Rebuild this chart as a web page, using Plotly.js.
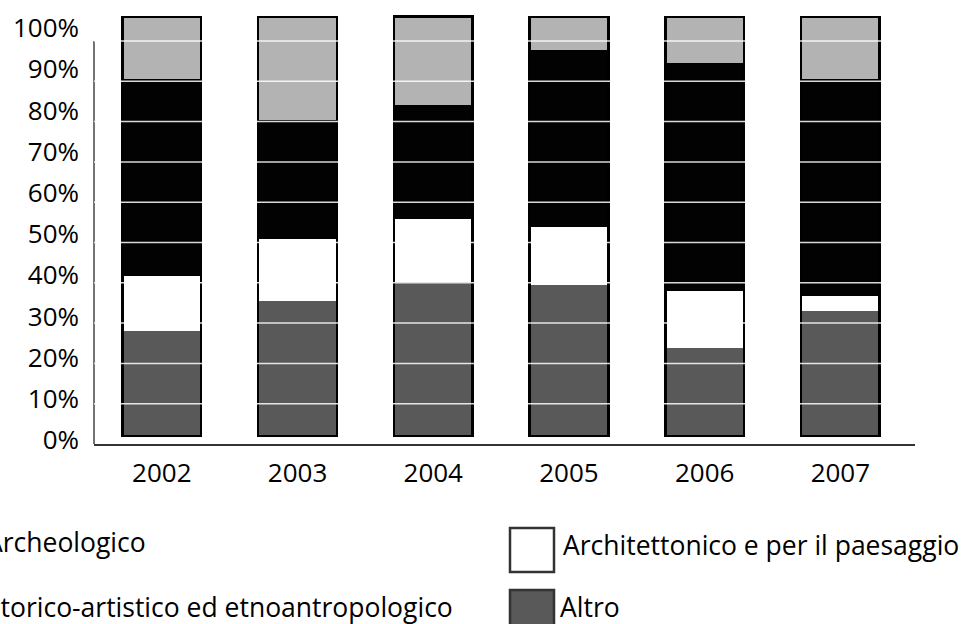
<!DOCTYPE html>
<html>
<head>
<meta charset="utf-8">
<script src="https://cdn.plot.ly/plotly-3.0.1.min.js"></script>
<style>html,body{margin:0;padding:0;background:#fff;}#chart{width:964px;height:624px;}</style>
</head>
<body>
<div id="chart"></div>
<script>
// ---- data ----
const years = ['2002', '2003', '2004', '2005', '2006', '2007'];
const altro = [25.1, 32.3, 36.7, 36.1, 21.0, 29.9];
const architettonico = [13.2, 14.6, 15.0, 13.9, 13.6, 3.6];
const storico = [46.9, 28.5, 27.4, 42.1, 54.4, 51.7];
const archeologico = [14.8, 24.6, 21.0, 7.9, 11.0, 14.8];
const seriesNames = ['Archeologico', 'Storico-artistico ed etnoantropologico', 'Architettonico e per il paesaggio', 'Altro'];
const tickValues = [0, 10, 20, 30, 40, 50, 60, 70, 80, 90, 100];
const tickLabels = ['0%', '10%', '20%', '30%', '40%', '50%', '60%', '70%', '80%', '90%', '100%'];

// ---- layout helpers ----
const W = 964, H = 624;
const ML = 94, MR = 49, MT = 10, MB = 180;
const PW = W - ML - MR, PH = H - MT - MB;
const px = p => (p - ML) / PW;          // page x -> paper x
const py = p => (H - MB - p) / PH;      // page y -> paper y

const FONT = '"Open Sans", "Noto Sans", sans-serif';
const colors = {arch: '#b3b3b3', stor: '#020202', archit: '#ffffff', altro: '#595959'};
const BW = 0.58;

const totals = years.map((_, i) => altro[i] + architettonico[i] + storico[i] + archeologico[i]);

const segTrace = (name, vals, color) => ({
  type: 'bar', name: name, x: years, y: vals, width: BW,
  marker: {color: color, line: {width: 0}},
  xaxis: 'x', yaxis: 'y', showlegend: false, hoverinfo: 'skip'
});

const traces = [
  segTrace(seriesNames[3], altro, colors.altro),
  segTrace(seriesNames[2], architettonico, colors.archit),
  segTrace(seriesNames[1], storico, colors.stor),
  segTrace(seriesNames[0], archeologico, colors.arch),
  {
    type: 'bar', name: 'frame', x: years, y: totals, width: BW,
    marker: {color: 'rgba(0,0,0,0)', line: {color: '#000', width: 2.5}},
    xaxis: 'x2', yaxis: 'y', showlegend: false, hoverinfo: 'skip'
  },
  // carrier for the percentage tick-label axis (invisible)
  {
    type: 'scatter', mode: 'markers', x: [years[0]], y: [tickValues[0]],
    marker: {opacity: 0, size: 1}, xaxis: 'x', yaxis: 'y2', showlegend: false, hoverinfo: 'skip'
  },
  // carrier for the gridline axis (invisible)
  {
    type: 'scatter', mode: 'markers', x: [years[0]], y: [tickValues[0]],
    marker: {opacity: 0, size: 1}, xaxis: 'x', yaxis: 'y3', showlegend: false, hoverinfo: 'skip'
  }
];

// axis line + gridlines (drawn above bars, as in the reference)
const shapes = [];
shapes.push({type: 'line', xref: 'paper', yref: 'y3', x0: 0, x1: 0, y0: 0, y1: 100,
  line: {color: '#444', width: 1.5}, layer: 'above'});
tickValues.filter(v => v > 0).forEach(v => {
  shapes.push({type: 'line', xref: 'paper', yref: 'y3', x0: 0, x1: 1.007, y0: v, y1: v,
    line: {color: 'rgba(255,255,255,0.85)', width: 1.5}, layer: 'above'});
});

// custom legend (large swatches)
const legendItems = [
  {name: seriesNames[0], color: colors.arch, sx: -66, tx: -15, cy: 542},
  {name: seriesNames[1], color: colors.stor, sx: -66, tx: -15, cy: 607},
  {name: seriesNames[2], color: colors.archit, sx: 510, tx: 562, cy: 545},
  {name: seriesNames[3], color: colors.altro, sx: 510, tx: 559, cy: 607}
];
const annotations = [];
legendItems.forEach(it => {
  const top = it.cy - 17;
  shapes.push({type: 'rect', xref: 'paper', yref: 'paper',
    x0: px(it.sx), x1: px(it.sx + 44), y0: py(top), y1: py(top + 44),
    fillcolor: it.color, line: {color: '#333', width: 2.5}, layer: 'above'});
  annotations.push({xref: 'paper', yref: 'paper', x: px(it.tx), y: py(it.cy),
    xanchor: 'left', yanchor: 'middle', text: it.name, showarrow: false,
    font: {family: FONT, size: 26.5, color: '#000'}, borderpad: 0});
});

const layout = {
  width: W, height: H,
  margin: {l: ML, r: MR, t: MT, b: MB, pad: 0},
  paper_bgcolor: '#fff', plot_bgcolor: '#fff',
  barmode: 'stack', showlegend: false,
  font: {family: FONT, size: 26, color: '#000'},
  xaxis: {
    type: 'category', range: [-0.5, 5.55], tickvals: years, ticktext: years,
    showline: true, linecolor: '#333', linewidth: 1.5, ticks: '',
    showgrid: false, zeroline: false, ticklabelstandoff: 5,
    tickfont: {family: FONT, size: 26, color: '#000'}
  },
  xaxis2: {
    type: 'category', overlaying: 'x', range: [-0.5, 5.55],
    showticklabels: false, showgrid: false, zeroline: false, showline: false, ticks: ''
  },
  yaxis: {
    range: [-1.909, 101.67], showticklabels: false, showgrid: false,
    zeroline: false, showline: false, ticks: ''
  },
  yaxis2: {
    overlaying: 'y', side: 'left', anchor: 'x', range: [-0.971, 104.37],
    tickvals: tickValues, ticktext: tickLabels, ticks: '', ticklabelstandoff: 14,
    showgrid: false, zeroline: false, showline: false,
    tickfont: {family: FONT, size: 26, color: '#000'}
  },
  yaxis3: {
    overlaying: 'y', side: 'right', range: [0, 107.69],
    showticklabels: false, showgrid: false, zeroline: false, showline: false, ticks: ''
  },
  shapes: shapes,
  annotations: annotations
};

Plotly.newPlot('chart', traces, layout, {displayModeBar: false, staticPlot: true});
</script>
</body>
</html>
